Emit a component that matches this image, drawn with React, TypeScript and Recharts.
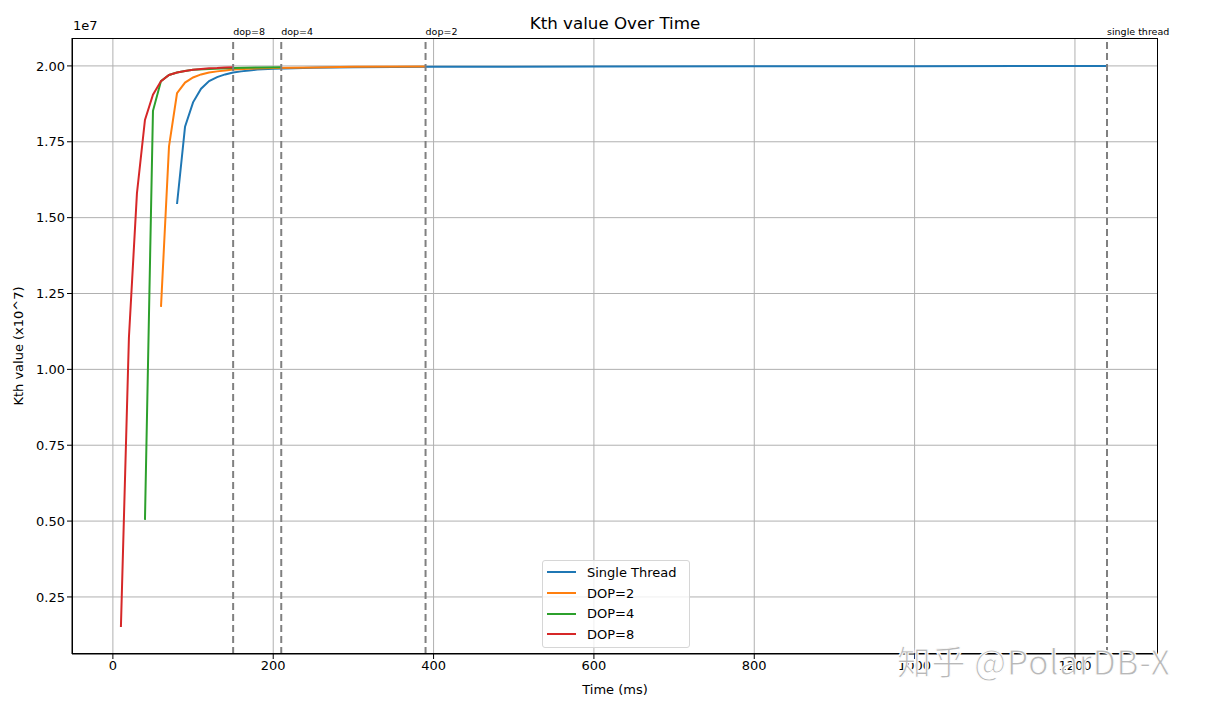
import { LineChart, Line, XAxis, YAxis, CartesianGrid, ReferenceLine } from "recharts";

// values are in units of 1e7 (axis shows "1e7" offset like matplotlib)
const singleThread = [
  { t: 80, v: 1.545 }, { t: 90, v: 1.8 }, { t: 100, v: 1.88 }, { t: 110, v: 1.925 },
  { t: 120, v: 1.95 }, { t: 130, v: 1.963 }, { t: 140, v: 1.972 }, { t: 150, v: 1.978 },
  { t: 160, v: 1.982 }, { t: 170, v: 1.985 }, { t: 180, v: 1.988 }, { t: 200, v: 1.991 },
  { t: 250, v: 1.994 }, { t: 300, v: 1.996 }, { t: 400, v: 1.997 }, { t: 600, v: 1.998 },
  { t: 800, v: 1.999 }, { t: 1000, v: 1.999 }, { t: 1240, v: 2.0 },
];
const dop2 = [
  { t: 60, v: 1.206 }, { t: 70, v: 1.735 }, { t: 80, v: 1.91 }, { t: 90, v: 1.945 },
  { t: 100, v: 1.962 }, { t: 110, v: 1.972 }, { t: 120, v: 1.978 }, { t: 130, v: 1.982 },
  { t: 140, v: 1.985 }, { t: 150, v: 1.988 }, { t: 170, v: 1.991 }, { t: 200, v: 1.993 },
  { t: 250, v: 1.995 }, { t: 300, v: 1.997 }, { t: 390, v: 1.998 },
];
const dop4 = [
  { t: 40, v: 0.504 }, { t: 50, v: 1.852 }, { t: 60, v: 1.95 }, { t: 70, v: 1.97 },
  { t: 80, v: 1.978 }, { t: 90, v: 1.983 }, { t: 100, v: 1.987 }, { t: 120, v: 1.99 },
  { t: 150, v: 1.993 }, { t: 180, v: 1.995 }, { t: 210, v: 1.996 },
];
const dop8 = [
  { t: 10, v: 0.151 }, { t: 20, v: 1.105 }, { t: 30, v: 1.58 }, { t: 40, v: 1.822 },
  { t: 50, v: 1.905 }, { t: 60, v: 1.95 }, { t: 70, v: 1.97 }, { t: 80, v: 1.978 },
  { t: 90, v: 1.983 }, { t: 100, v: 1.987 }, { t: 110, v: 1.99 }, { t: 120, v: 1.992 },
  { t: 130, v: 1.993 }, { t: 140, v: 1.995 }, { t: 150, v: 1.996 },
];

const finishLines = [
  { t: 150, label: "dop=8" },
  { t: 210, label: "dop=4" },
  { t: 390, label: "dop=2" },
  { t: 1240, label: "single thread" },
];

const xTicks = [0, 200, 400, 600, 800, 1000, 1200];
const yTicks = [0.25, 0.5, 0.75, 1.0, 1.25, 1.5, 1.75, 2.0];

const series = [
  { name: "Single Thread", data: singleThread, color: "#1f77b4" },
  { name: "DOP=2", data: dop2, color: "#ff7f0e" },
  { name: "DOP=4", data: dop4, color: "#2ca02c" },
  { name: "DOP=8", data: dop8, color: "#d62728" },
];

const font = "'DejaVu Sans', sans-serif";

function LegendBox() {
  return (
    <div style={{ position: "absolute", left: 542, top: 560, border: "1px solid #d6d6d6", borderRadius: 3, background: "rgba(255,255,255,0.8)", padding: "1px 12px 2px 4px", fontFamily: font, fontSize: 13 }}>
      {series.map((s) => (
        <div key={s.name} style={{ display: "flex", alignItems: "center", height: 20.7 }}>
          <div style={{ width: 29, height: 2, background: s.color, marginRight: 11 }} />
          <span>{s.name}</span>
        </div>
      ))}
    </div>
  );
}

export default function App() {
  return (
    <div style={{ position: "absolute", left: 0, top: 0, width: 1216, height: 706, background: "#fff", fontFamily: font }}>
      <div style={{ position: "absolute", left: 72, width: 1086, top: 13, textAlign: "center", fontSize: 16.7 }}>Kth value Over Time</div>
      <div style={{ position: "absolute", left: 73, top: 18, fontSize: 13 }}>1e7</div>
      <LineChart width={1216} height={706} margin={{ top: 38, right: 58, bottom: 0, left: 0 }}>
        <CartesianGrid stroke="#b0b0b0" strokeWidth={1} horizontalValues={yTicks} verticalValues={xTicks} />
        <XAxis
          dataKey="t"
          type="number"
          domain={[-51, 1303.6]}
          ticks={xTicks}
          allowDataOverflow
          height={52}
          stroke="#000"
          tickSize={5}
          tick={{ fill: "#000", fontSize: 13, fontFamily: font }}
          label={{ value: "Time (ms)", position: "insideBottom", offset: 12, fill: "#000", fontSize: 13, fontFamily: font }}
        />
        <YAxis
          type="number"
          domain={[0.062, 2.092]}
          ticks={yTicks}
          allowDataOverflow
          width={72}
          stroke="#000"
          tickSize={5}
          tickFormatter={(v: number) => v.toFixed(2)}
          tick={{ fill: "#000", fontSize: 13, fontFamily: font }}
          label={{ value: "Kth value (x10^7)", angle: -90, position: "insideLeft", offset: 18, fill: "#000", fontSize: 13, fontFamily: font, style: { textAnchor: "middle" } }}
        />
        {series.map((s) => (
          <Line
            key={s.name}
            data={s.data}
            dataKey="v"
            name={s.name}
            type="linear"
            stroke={s.color}
            strokeWidth={2}
            dot={false}
            isAnimationActive={false}
          />
        ))}
        {finishLines.map((f) => (
          <ReferenceLine
            key={f.label}
            x={f.t}
            stroke="#808080"
            strokeWidth={2}
            strokeDasharray="7 4"
            label={(props: any) => (
              <text x={props.viewBox.x} y={props.viewBox.y - 3} fontSize={9.5} fontFamily={font} fill="#000">
                {f.label}
              </text>
            )}
          />
        ))}
      </LineChart>
      {/* axes frame (top and right spines) */}
      <div style={{ position: "absolute", left: 72, top: 38, width: 1086, height: 616, boxSizing: "border-box", border: "1px solid #000", pointerEvents: "none" }} />
      <LegendBox />
      <div style={{ position: "absolute", left: 897, top: 636, fontSize: 34, color: "#b8b8b8", fontFamily: "'Noto Sans CJK SC', sans-serif", WebkitTextStroke: "1px #fff", whiteSpace: "nowrap", letterSpacing: 0.5 }}>
        知乎 @PolarDB-X
      </div>
    </div>
  );
}
